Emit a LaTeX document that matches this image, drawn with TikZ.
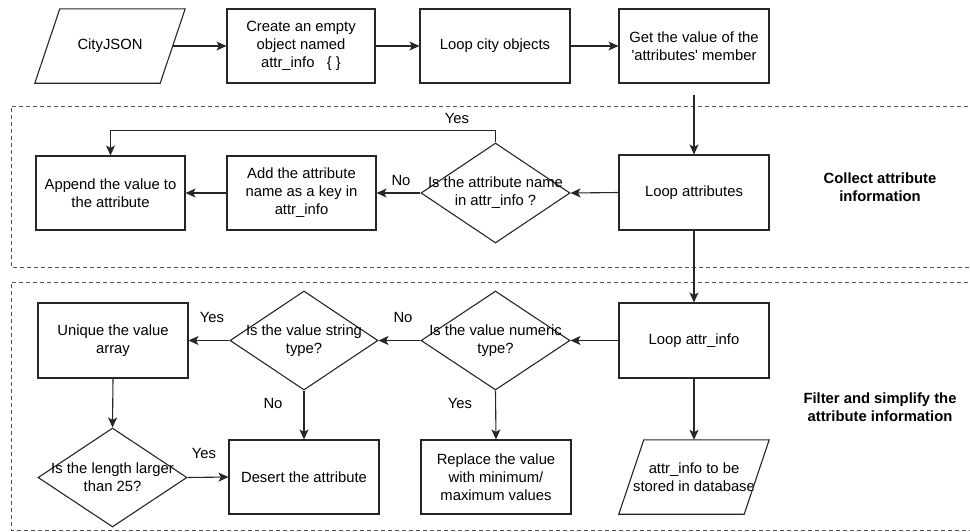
\documentclass[tikz,border=0pt]{standalone}
\usepackage{fontspec}
\setmainfont{Liberation Sans}[Ligatures=TeXOff]
\usetikzlibrary{shapes.geometric,arrows.meta,calc}
\definecolor{linec}{HTML}{262626}
\definecolor{dashc}{HTML}{555555}
\begin{document}
\begin{tikzpicture}[x=1pt,y=-1pt,
  txt/.style={font=\fontsize{14.8}{18}\selectfont, align=center, text=black},
  bold/.style={font=\bfseries\fontsize{14.8}{18}\selectfont, align=center, text=black},
  proc/.style={draw=linec, line width=1.1pt, minimum width=150pt, minimum height=75pt, inner sep=0pt, txt},
  iobox/.style={minimum width=150pt, minimum height=74pt, inner sep=0pt, txt},
  decision/.style={diamond, draw=linec, line width=1.1pt, minimum width=149pt, minimum height=100pt, inner sep=0pt},
  outline/.style={draw=linec, line width=1.1pt},
  arr/.style={draw=linec, line width=1.1pt, -{Stealth[length=10pt,width=9pt,inset=2.5pt]}},
  plain/.style={draw=linec, line width=1.1pt},
  region/.style={draw=dashc, line width=1pt, dash pattern=on 4pt off 3pt},
]
\useasboundingbox (0,0) rectangle (970,531);

% stage frames (open to the right)
\draw[region] (975,106) -- (11,106) -- (11,267) -- (975,267);
\draw[region] (975,282) -- (11,282) -- (11,530) -- (975,530);

% stage titles
\node[bold] (stage1) at (880,187) {Collect attribute\\information};
\node[bold] (stage2) at (880,407) {Filter and simplify the\\attribute information};

% top row
\node[iobox] (cj) at (110,46) {CityJSON};
\draw[outline] ([xshift=25pt]cj.north west) -- (cj.north east) -- ([xshift=-25pt]cj.south east) -- (cj.south west) -- cycle;
\coordinate (cjr) at ($(cj.east)+(-12.5,0)$);
\node[proc, minimum width=148pt, minimum height=74pt] (create) at (301,46) {Create an empty\\object named\\attr\_info\ \ \ \{ \}};
\node[proc, minimum height=74pt] (loopc) at (495,46) {Loop city objects};
\node[proc, minimum height=74pt] (getv) at (694,46) {Get the value of the\\'attributes' member};

% collect stage
\node[proc] (loopa) at (694,192.5) {Loop attributes};
\node[decision, label={[txt]center:Is the attribute name\\in attr\_info ?}] (ain) at (495.5,193) {};
\node[proc, minimum width=149pt, minimum height=74pt] (addk) at (301.5,193) {Add the attribute\\name as a key in\\attr\_info};
\node[proc, minimum width=149pt, minimum height=74pt] (appv) at (110.5,193) {Append the value to\\the attribute};

% filter stage
\node[proc] (loopi) at (694,340.5) {Loop attr\_info};
\node[decision, minimum height=99pt, label={[txt]center:Is the value numeric\\type?}] (numd) at (495.5,340.5) {};
\node[decision, minimum width=148pt, minimum height=99pt, label={[txt]center:Is the value string\\type?}] (strd) at (304,340.5) {};
\node[proc] (uniq) at (113,340.5) {Unique the value\\array};
\node[decision, minimum height=99pt, label={[txt]center:Is the length larger\\than 25?}] (lend) at (112.5,477.5) {};
\node[proc, minimum height=74pt] (desert) at (304,477) {Desert the attribute};
\node[proc, minimum height=74pt] (repl) at (496,477) {Replace the value\\with minimum/\\maximum values};
\node[iobox] (store) at (694,477) {attr\_info to be\\stored in database};
\draw[outline] ([xshift=25pt]store.north west) -- (store.north east) -- ([xshift=-25pt]store.south east) -- (store.south west) -- cycle;

% connectors
\draw[arr] (cjr) -- (create.west);
\draw[arr] (create) -- (loopc);
\draw[arr] (loopc) -- (getv);
\draw[arr, shorten <=11pt] (getv.south) -- (loopa.north);
\draw[arr] (loopa.west) -- (ain.east);
\draw[arr] (ain.west) -- (addk.east);
\draw[arr] (addk.west) -- (appv.east);
\draw[arr] (ain.north) -- ++(0,-12) -| (appv.north);
\draw[arr] (loopa.south) -- (loopi.north);
\draw[arr] (loopi.west) -- (numd.east);
\draw[arr] (numd.west) -- (strd.east);
\draw[arr] (strd.west) -- (uniq.east);
\draw[arr] (strd.south) -- (desert.north);
\draw[arr] (numd.south) -- (repl.north);
\draw[arr] (uniq.south) -- (lend.north);
\draw[arr] (lend.east) -- (desert.west);
\draw[arr] (loopi.south) -- (store.north);

% branch labels
\node[txt] (yes1) at (457,118) {Yes};
\node[txt] (no1) at (401,180) {No};
\node[txt] (no2) at (403,317) {No};
\node[txt] (yes2) at (212,317) {Yes};
\node[txt] (no3) at (273,403) {No};
\node[txt] (yes3) at (460,403) {Yes};
\node[txt] (yes4) at (204,453) {Yes};
\end{tikzpicture}
\end{document}
